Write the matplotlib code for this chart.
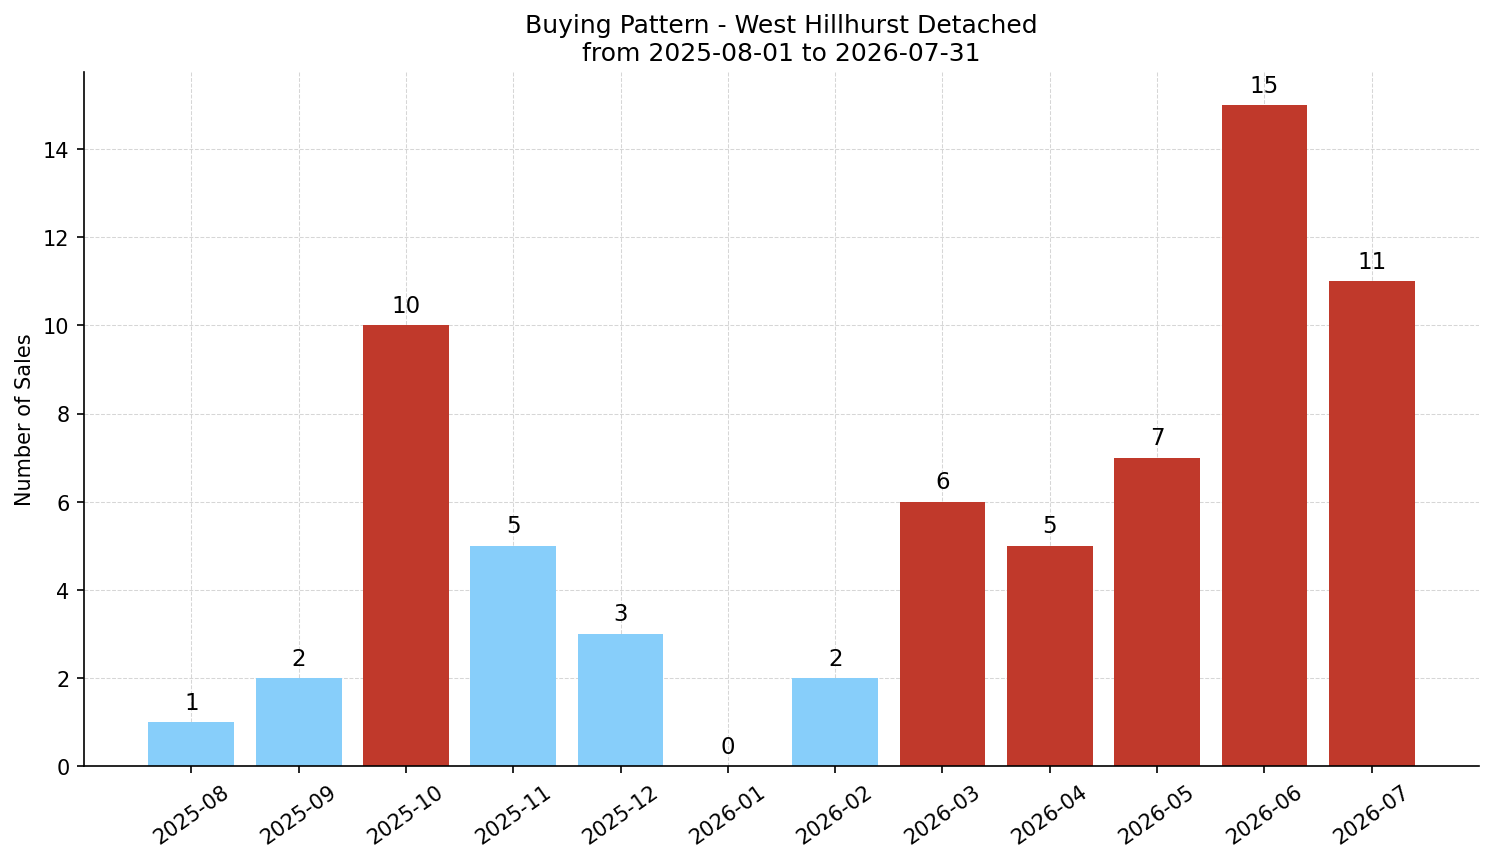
import matplotlib
matplotlib.use('Agg')
from matplotlib import pyplot as plt
import numpy as np

months = ['2025-08', '2025-09', '2025-10', '2025-11', '2025-12', '2026-01',
          '2026-02', '2026-03', '2026-04', '2026-05', '2026-06', '2026-07']
sales = [1, 2, 10, 5, 3, 0, 2, 6, 5, 7, 15, 11]
highlight = [False, False, True, False, False, False, False, True, True, True, True, True]

fig = plt.figure(figsize=(9.96, 5.753), dpi=150)
ax = fig.add_axes([0.0562, 0.1112, 0.9338, 0.8042])

x = np.arange(len(months))
colors = ['#C0392B' if h else '#87CEFA' for h in highlight]
bars = ax.bar(x, sales, width=0.8, color=colors, zorder=2)

# valeur au-dessus de chaque barre
for b, v in zip(bars, sales):
    ax.annotate(str(v), (b.get_x() + b.get_width() / 2, v), xytext=(0, 4),
                textcoords='offset points', ha='center', va='bottom', fontsize=11)

ax.set_xlim(-1, 12)
ax.set_ylim(0, max(sales) * 1.05)
ax.set_xticks(x)
ax.set_xticklabels(months, rotation=35, fontsize=10)
ax.tick_params(axis='y', labelsize=10)
ax.set_ylabel('Number of Sales', fontsize=10)
ax.set_title('Buying Pattern - West Hillhurst Detached\nfrom 2025-08-01 to 2026-07-31', fontsize=12)
ax.grid(True, linestyle='--', color='#cccccc', alpha=0.8, linewidth=0.5, zorder=0)
ax.spines['top'].set_visible(False)
ax.spines['right'].set_visible(False)

plt.savefig('out.png', dpi=150)
